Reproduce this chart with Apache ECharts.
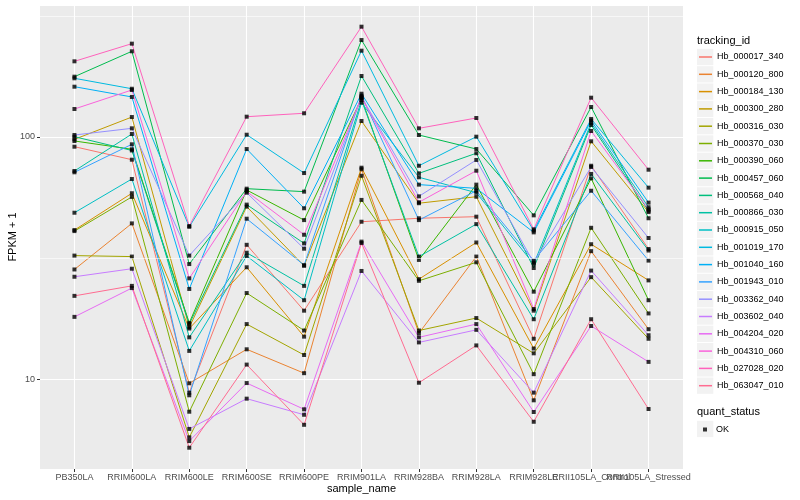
<!DOCTYPE html>
<html><head><meta charset="utf-8">
<script src="https://cdn.jsdelivr.net/npm/echarts@6/dist/echarts.min.js"></script>
<style>html,body{margin:0;padding:0;background:#fff}#c{width:800px;height:500px}</style>
</head><body><div id="c"></div>
<script>
const categories = ['PB350LA','RRIM600LA','RRIM600LE','RRIM600SE','RRIM600PE','RRIM901LA','RRIM928BA','RRIM928LA','RRIM928LE','RRII105LA_Control','RRII105LA_Stressed'];
const trackingIds = ['Hb_000017_340','Hb_000120_800','Hb_000184_130','Hb_000300_280','Hb_000316_030','Hb_000370_030','Hb_000390_060','Hb_000457_060','Hb_000568_040','Hb_000866_030','Hb_000915_050','Hb_001019_170','Hb_001040_160','Hb_001943_010','Hb_003362_040','Hb_003602_040','Hb_004204_020','Hb_004310_060','Hb_027028_020','Hb_063047_010'];
const colors = ['#F8766D','#EA8331','#D89000','#C09B00','#A3A500','#7CAE00','#39B600','#00BB4E','#00BF7D','#00C1A3','#00BFC4','#00BAE0','#00B0F6','#35A2FF','#9590FF','#C77CFF','#E76BF3','#FA62DB','#FF62BC','#FF6C91'];

const hb_000017_340 = [91.2, 80.6, 8.81, 35.9, 19.2, 44.7, 46.2, 46.9, 14.7, 76.1, 34.5];
const hb_000120_800 = [28.4, 44.0, 9.63, 13.3, 10.6, 73.6, 15.5, 32.1, 8.19, 33.8, 16.1];
const hb_000184_130 = [41.3, 58.6, 16.2, 29.0, 15.0, 74.7, 25.9, 36.7, 13.4, 36.1, 25.6];
const hb_000300_280 = [97.8, 120.9, 16.4, 51.6, 29.4, 116.4, 53.3, 56.7, 19.2, 96.0, 49.0];
const hb_000316_030 = [32.4, 32.1, 5.76, 16.9, 12.6, 69.2, 15.9, 17.9, 12.8, 26.4, 14.7];
const hb_000370_030 = [40.9, 56.6, 7.35, 22.7, 15.9, 55.0, 25.5, 30.4, 10.5, 42.2, 18.7];
const hb_000390_060 = [96.3, 89.0, 17.1, 60.4, 45.4, 144.2, 31.1, 63.6, 23.0, 67.5, 21.2];
const hb_000457_060 = [177.4, 225.8, 29.9, 61.2, 59.5, 251.3, 101.9, 89.2, 47.5, 133.0, 46.2];
const hb_000568_040 = [100.3, 88.0, 16.9, 52.6, 36.4, 178.6, 70.8, 85.7, 28.8, 112.1, 49.6];
const hb_000866_030 = [72.4, 102.9, 14.9, 33.3, 24.3, 142.1, 32.1, 43.7, 17.7, 70.4, 34.0];
const hb_000915_050 = [48.7, 67.1, 13.1, 32.3, 21.2, 138.5, 68.2, 58.9, 29.9, 114.2, 51.3];
const hb_001019_170 = [174.7, 158.2, 42.6, 102.2, 71.0, 227.1, 76.1, 100.3, 41.1, 118.7, 61.8];
const hb_001040_160 = [161.3, 146.3, 23.6, 89.2, 50.8, 150.9, 63.6, 61.4, 40.4, 116.8, 53.6];
const hb_001943_010 = [71.5, 93.3, 8.59, 46.0, 29.6, 148.1, 45.4, 60.0, 30.9, 60.0, 30.9];
const hb_003362_040 = [101.9, 108.6, 32.4, 58.9, 34.6, 146.3, 56.9, 80.4, 30.3, 75.2, 38.3];
const hb_003602_040 = [26.5, 28.6, 6.24, 8.32, 7.14, 28.0, 14.2, 16.0, 8.81, 28.1, 15.2];
const hb_004204_020 = [18.1, 23.8, 5.56, 9.65, 7.52, 37.0, 14.9, 16.9, 7.33, 16.6, 11.8];
const hb_004310_060 = [130.5, 156.3, 26.1, 59.6, 39.5, 145.3, 53.8, 72.6, 19.5, 105.9, 50.3];
const hb_027028_020 = [205.3, 242.8, 42.9, 121.3, 125.3, 285.3, 108.6, 119.8, 41.6, 145.3, 73.3];
const hb_063047_010 = [22.1, 24.3, 5.22, 11.5, 6.49, 36.5, 9.68, 13.8, 6.68, 17.7, 7.54];

const seriesValues = [hb_000017_340, hb_000120_800, hb_000184_130, hb_000300_280, hb_000316_030, hb_000370_030, hb_000390_060, hb_000457_060, hb_000568_040, hb_000866_030, hb_000915_050, hb_001019_170, hb_001040_160, hb_001943_010, hb_003362_040, hb_003602_040, hb_004204_020, hb_004310_060, hb_027028_020, hb_063047_010];
const yTicks = [10, 100];
const minorBreaks = [31.62, 316.2];
const statusLevels = ['OK'];

const FONT = '"Liberation Sans", Arial, Helvetica, sans-serif';
const yMin = 4.264, yMax = 350.6;
const chart = echarts.init(document.getElementById('c'));

const series = trackingIds.map((id, i) => ({
  name: id, type: 'line', xAxisIndex: 1, yAxisIndex: 1,
  data: seriesValues[i], showSymbol: false, symbol: 'none',
  lineStyle: { width: 1, color: colors[i] }, itemStyle: { color: colors[i] },
  emphasis: { disabled: true }, silent: true, z: 3
}));
const pts = [];
seriesValues.forEach(arr => arr.forEach((v, j) => pts.push([categories[j], v])));
series.push({
  name: statusLevels[0], type: 'scatter', xAxisIndex: 1, yAxisIndex: 1, data: pts,
  symbol: 'rect', symbolSize: 4, itemStyle: { color: '#000' }, silent: true, z: 4
});
series.push({
  type: 'line', xAxisIndex: 0, yAxisIndex: 0, data: [], silent: true, z: 1,
  markLine: { silent: true, symbol: 'none', label: { show: false }, animation: false,
    lineStyle: { color: '#FFFFFF', width: 0.6, type: 'solid' },
    data: minorBreaks.map(v => ({ yAxis: v })) }
});

// legend key backgrounds (ggplot-style grey key boxes)
const LEG_TOP = 48.35, ROW = 17.3;
const keyBoxes = trackingIds.map((id, i) => ({
  type: 'rect', shape: { x: 697, y: LEG_TOP + i * ROW + 0.5, width: 16.3, height: 16.3 },
  style: { fill: '#F2F2F2' }, z: -1, silent: true
}));
keyBoxes.push({ type: 'rect', shape: { x: 697, y: 420.8, width: 16.3, height: 16.3 }, style: { fill: '#F2F2F2' }, z: -1, silent: true });

chart.setOption({
  animation: false,
  textStyle: { fontFamily: FONT },
  graphic: keyBoxes,
  title: [
    { text: 'tracking_id', left: 697, top: 35, padding: 0, textStyle: { fontSize: 11, fontWeight: 'normal', color: '#000', fontFamily: FONT } },
    { text: 'quant_status', left: 697, top: 406, padding: 0, textStyle: { fontSize: 11, fontWeight: 'normal', color: '#000', fontFamily: FONT } }
  ],
  legend: [
    { data: trackingIds.map((id, i) => ({ name: id, icon: 'rect', itemStyle: { color: colors[i] } })),
      orient: 'vertical', left: 699, top: LEG_TOP, padding: 0, itemWidth: 13, itemHeight: 1.5, itemGap: 0,
      selectedMode: false, textStyle: { fontSize: 9, lineHeight: ROW, color: '#000', fontFamily: FONT } },
    { data: statusLevels.map(s => ({ name: s, icon: 'rect', itemStyle: { color: '#000' } })),
      orient: 'vertical', left: 703, top: 425, padding: 0, itemWidth: 4, itemHeight: 4, selectedMode: false,
      textStyle: { fontSize: 9, color: '#000', fontFamily: FONT, padding: [0, 0, 0, 4] } }
  ],
  grid: [
    { left: 40, right: 117, top: 5, bottom: 31, show: true, backgroundColor: '#EBEBEB', borderWidth: 0, outerBoundsMode: 'none', containLabel: false },
    { left: 74.45, right: 151.45, top: 5, bottom: 31, show: false, outerBoundsMode: 'none', containLabel: false }
  ],
  xAxis: [
    { gridIndex: 0, type: 'value', min: 0, max: 1, show: false },
    { gridIndex: 1, type: 'category', data: categories, boundaryGap: false,
      name: 'sample_name', nameLocation: 'middle', nameGap: 14, nameMoveOverlap: false,
      nameTextStyle: { fontSize: 11, color: '#000', fontFamily: FONT },
      axisLine: { show: false },
      axisTick: { show: true, length: 3, alignWithLabel: true, lineStyle: { color: '#333333' } },
      axisLabel: { interval: 0, hideOverlap: false, fontSize: 9, color: '#4D4D4D', margin: 4, fontFamily: FONT },
      splitLine: { show: true, lineStyle: { color: '#FFFFFF', width: 1.1 } } }
  ],
  yAxis: [
    { gridIndex: 0, type: 'log', logBase: 10, min: yMin, max: yMax,
      name: 'FPKM + 1', nameLocation: 'middle', nameGap: 22, nameRotate: 90, nameMoveOverlap: false,
      nameTextStyle: { fontSize: 11, color: '#000', fontFamily: FONT },
      axisLine: { show: false },
      axisTick: { show: true, length: 3, lineStyle: { color: '#333333' } },
      axisLabel: { fontSize: 9, color: '#4D4D4D', margin: 5, showMinLabel: false, showMaxLabel: false, fontFamily: FONT,
        formatter: v => (yTicks.indexOf(Math.round(v)) >= 0 ? String(Math.round(v)) : '') },
      splitLine: { show: true, lineStyle: { color: '#FFFFFF', width: 1.1 } } },
    { gridIndex: 1, type: 'log', logBase: 10, min: yMin, max: yMax, show: false,
      splitLine: { show: false } }
  ],
  series: series
});
</script></body></html>
